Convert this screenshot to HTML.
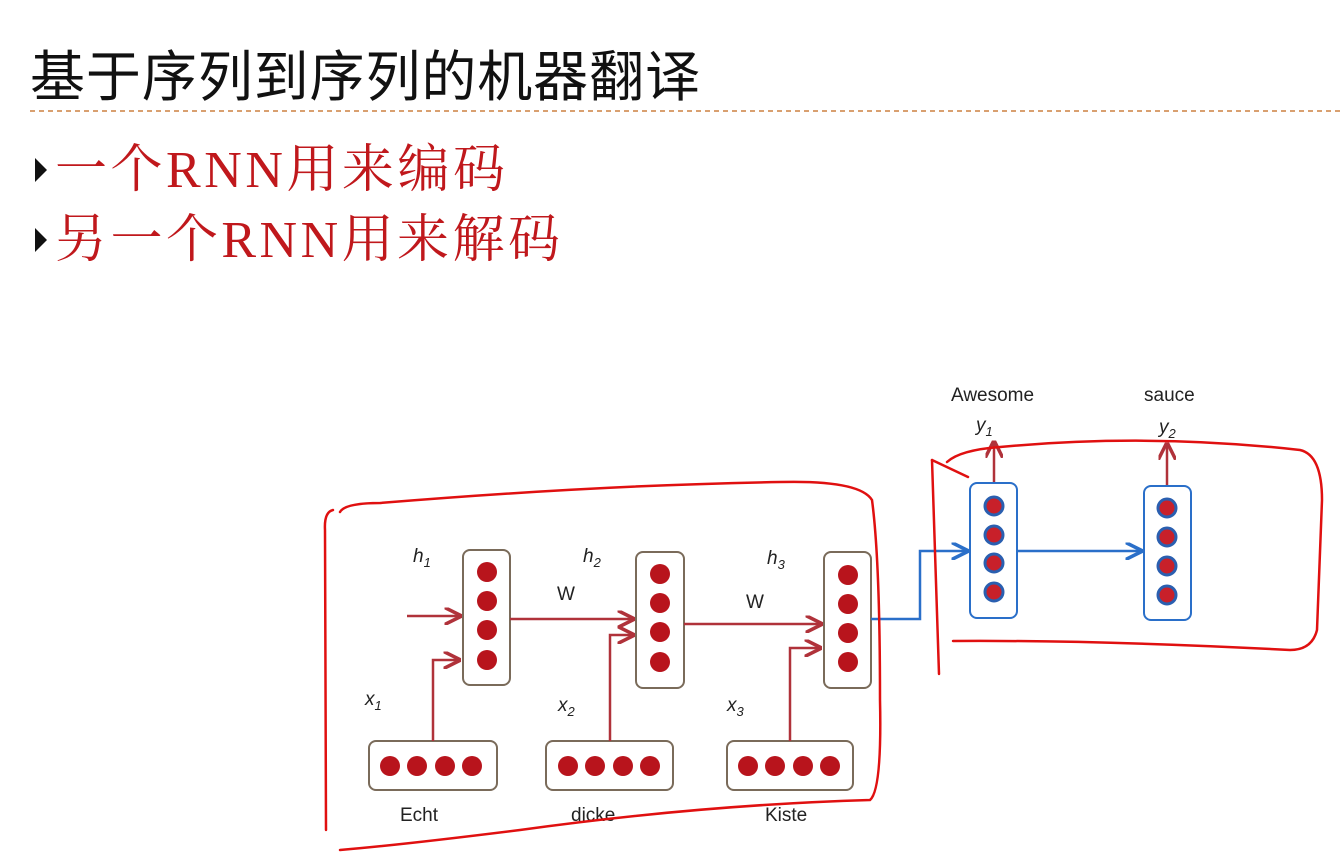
<!DOCTYPE html>
<html><head><meta charset="utf-8"><style>
html,body{margin:0;padding:0;background:#fff;width:1341px;height:856px;overflow:hidden}
</style></head><body>
<svg width="1341" height="856" viewBox="0 0 1341 856" xmlns="http://www.w3.org/2000/svg">
<defs>
<marker id="ar" viewBox="0 0 10 10" refX="9" refY="5" markerWidth="7" markerHeight="7" orient="auto"><path d="M0,0 L10,5 L0,10" fill="none" stroke="#b0323a" stroke-width="2"/></marker>
<marker id="ab" viewBox="0 0 10 10" refX="9" refY="5" markerWidth="7" markerHeight="7" orient="auto"><path d="M0,0 L10,5 L0,10" fill="none" stroke="#2a6fc9" stroke-width="2"/></marker>
</defs>
<text x="30" y="96" textLength="670" lengthAdjust="spacing" font-family="'Liberation Sans','Noto Sans CJK SC',sans-serif" font-size="55" fill="#111">基于序列到序列的机器翻译</text>
<line x1="30" y1="111" x2="1341" y2="111" stroke="#d9a070" stroke-width="2" stroke-dasharray="5,4"/>
<polygon points="35,158 35,182 47,170" fill="#111"/>
<text x="55" y="187" textLength="450" lengthAdjust="spacing" font-family="'Liberation Serif','Noto Serif CJK SC',serif" font-size="52" fill="#c0181c">一个RNN用来编码</text>
<polygon points="35,228 35,252 47,240" fill="#111"/>
<text x="55" y="257" textLength="505" lengthAdjust="spacing" font-family="'Liberation Serif','Noto Serif CJK SC',serif" font-size="52" fill="#c0181c">另一个RNN用来解码</text>

<g font-family="'Liberation Sans','DejaVu Sans',sans-serif" fill="#222">
<g fill="#fff" stroke="#7a6b5a" stroke-width="2">
<rect x="463" y="550" width="47" height="135" rx="7"/>
<rect x="636" y="552" width="48" height="136" rx="7"/>
<rect x="824" y="552" width="47" height="136" rx="7"/>
<rect x="369" y="741" width="128" height="49" rx="7"/>
<rect x="546" y="741" width="127" height="49" rx="7"/>
<rect x="727" y="741" width="126" height="49" rx="7"/>
</g>
<g fill="#b8141c">
<circle cx="487" cy="572" r="10"/><circle cx="487" cy="601" r="10"/><circle cx="487" cy="630" r="10"/><circle cx="487" cy="660" r="10"/>
<circle cx="660" cy="574" r="10"/><circle cx="660" cy="603" r="10"/><circle cx="660" cy="632" r="10"/><circle cx="660" cy="662" r="10"/>
<circle cx="848" cy="575" r="10"/><circle cx="848" cy="604" r="10"/><circle cx="848" cy="633" r="10"/><circle cx="848" cy="662" r="10"/>
<circle cx="390" cy="766" r="10"/><circle cx="417" cy="766" r="10"/><circle cx="445" cy="766" r="10"/><circle cx="472" cy="766" r="10"/>
<circle cx="568" cy="766" r="10"/><circle cx="595" cy="766" r="10"/><circle cx="623" cy="766" r="10"/><circle cx="650" cy="766" r="10"/>
<circle cx="748" cy="766" r="10"/><circle cx="775" cy="766" r="10"/><circle cx="803" cy="766" r="10"/><circle cx="830" cy="766" r="10"/>
</g>
<g stroke="#b0323a" stroke-width="2.5" fill="none">
<line x1="407" y1="616" x2="460" y2="616" marker-end="url(#ar)"/>
<line x1="510" y1="619" x2="633" y2="619" marker-end="url(#ar)"/>
<line x1="684" y1="624" x2="821" y2="624" marker-end="url(#ar)"/>
<polyline points="433,741 433,660 459,660" marker-end="url(#ar)"/>
<polyline points="610,741 610,635 633,635" marker-end="url(#ar)"/>
<polyline points="790,741 790,648 820,648" marker-end="url(#ar)"/>
<line x1="994" y1="483" x2="994" y2="442" marker-end="url(#ar)"/>
<line x1="1167" y1="485" x2="1167" y2="444" marker-end="url(#ar)"/>
</g>
<g font-size="19" font-style="italic">
<text x="413" y="562">h<tspan font-size="13" dy="5">1</tspan></text>
<text x="583" y="562">h<tspan font-size="13" dy="5">2</tspan></text>
<text x="767" y="564">h<tspan font-size="13" dy="5">3</tspan></text>
<text x="365" y="705">x<tspan font-size="13" dy="5">1</tspan></text>
<text x="558" y="711">x<tspan font-size="13" dy="5">2</tspan></text>
<text x="727" y="711">x<tspan font-size="13" dy="5">3</tspan></text>
<text x="976" y="431">y<tspan font-size="13" dy="5">1</tspan></text>
<text x="1159" y="433">y<tspan font-size="13" dy="5">2</tspan></text>
</g>
<g font-size="19">
<text x="557" y="600">W</text><text x="746" y="608">W</text>
<text x="400" y="821">Echt</text><text x="571" y="821">dicke</text><text x="765" y="821">Kiste</text>
<text x="951" y="401">Awesome</text><text x="1144" y="401">sauce</text>
</g>
<g fill="#fff" stroke="#2a6fc9" stroke-width="2">
<rect x="970" y="483" width="47" height="135" rx="7"/>
<rect x="1144" y="486" width="47" height="134" rx="7"/>
</g>
<g fill="#c8202a" stroke="#2a5fb0" stroke-width="3">
<circle cx="994" cy="506" r="9"/><circle cx="994" cy="535" r="9"/><circle cx="994" cy="563" r="9"/><circle cx="994" cy="592" r="9"/>
<circle cx="1167" cy="508" r="9"/><circle cx="1167" cy="537" r="9"/><circle cx="1167" cy="566" r="9"/><circle cx="1167" cy="595" r="9"/>
</g>
<g stroke="#2a6fc9" stroke-width="2.5" fill="none">
<polyline points="871,619 920,619 920,551 967,551" marker-end="url(#ab)"/>
<line x1="1017" y1="551" x2="1141" y2="551" marker-end="url(#ab)"/>
</g>
</g>
<g stroke="#e01010" stroke-width="2.5" fill="none" stroke-linecap="round">
<path d="M333,510 Q324,512 325,530 L326,830"/>
<path d="M340,512 Q345,503 380,503 Q600,485 780,482 Q860,480 872,500 Q880,560 880,700 Q882,790 870,800 Q700,805 520,830 Q400,845 340,850"/>
<path d="M932,460 L939,674"/>
<path d="M932,460 L968,477"/>
<path d="M947,462 Q960,450 1000,447 Q1150,433 1300,450 Q1322,455 1322,500 L1317,630 Q1312,650 1290,650 Q1100,640 953,641"/>
</g>
</svg>
</body></html>
